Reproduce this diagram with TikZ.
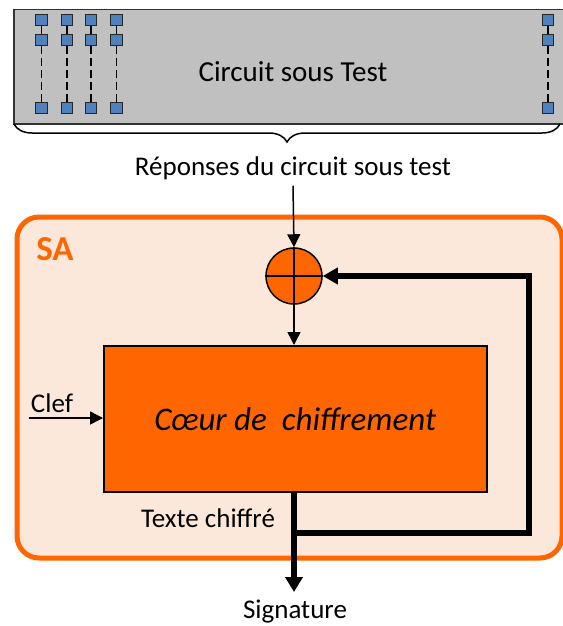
\documentclass[tikz,border=0pt]{standalone}
\usepackage{fontspec}
\setmainfont{Carlito}
\usetikzlibrary{arrows.meta, positioning, calc, decorations.pathreplacing}
\definecolor{saorange}{RGB}{255,102,0}
\definecolor{sapeach}{RGB}{252,232,218}
\definecolor{cutgray}{RGB}{192,192,192}
\definecolor{padblue}{RGB}{79,129,189}

\begin{document}
\begin{tikzpicture}[x=1pt, y=-1pt,
  pad/.style={draw=black!85, fill=padblue, minimum size=11.5pt, inner sep=0pt, line width=1.4pt},
  lbl/.style={font=\fontsize{27}{32}\selectfont, inner sep=0pt},
  arr/.style={-{Triangle[length=13pt, width=13pt]}, line width=1.5pt},
  fbk/.style={line width=6pt}
]
  \useasboundingbox (0,0) rectangle (562,626);
  % circuit under test
  \node[draw=black!80, fill=cutgray, line width=1.5pt, minimum width=560pt, minimum height=114pt, inner sep=0pt, anchor=north west] (cut) at (13,9) {};
  \node[lbl, font=\fontsize{29}{34}\selectfont] (cuttxt) at (293,72) {Circuit sous Test};
  \foreach \i/\x in {1/41.5, 2/67, 3/91, 4/116.5, 5/548} {
    \node[pad] (pa\i) at (\x,20) {};
    \node[pad] (pb\i) at (\x,40) {};
    \node[pad] (pc\i) at (\x,108) {};
    \draw[line width=1.5pt] (pa\i) -- (pb\i);
    \draw[line width=1.5pt, dash pattern=on 8pt off 4pt] (pb\i) -- (pc\i);
  }
  \draw[line width=1.5pt, decorate, decoration={brace, amplitude=18pt, mirror}] (14,124) -- (560,124);
  \node[lbl] (resp) at (293,168) {Réponses du circuit sous test};

  % SA block
  \node[draw=saorange, fill=sapeach, line width=5pt, rounded corners=22pt, minimum width=545pt, minimum height=341pt, anchor=north west] (sa) at (14.5,214.5) {};
  \node[font=\bfseries\fontsize{35}{40}\selectfont, text=saorange, inner sep=0pt] (satxt) at (55,249) {SA};

  \node[circle, draw=black, fill=saorange, line width=1.5pt, minimum size=56pt, inner sep=0pt] (xor) at (294,276) {};
  \draw[line width=1.5pt] (xor.north) -- (xor.south);
  \draw[line width=1.5pt] (xor.west) -- (xor.east);

  \node[draw=black, fill=saorange, line width=1.5pt, minimum width=383pt, minimum height=146pt, inner sep=0pt, anchor=north west, font=\itshape\fontsize{33}{38}\selectfont] (core) at (103,345) {Cœur de\ \ chiffrement};

  \node[lbl] (clef) at (52,403) {Clef};
  \node[lbl] (chiffre) at (208,518) {Texte chiffré};
  \node[lbl] (sig) at (295,612) {Signature};

  % connectors
  \draw[arr] ([yshift=-6pt]resp.south) -- (xor.north);
  \draw[arr] (xor.south) -- (xor.south |- core.north);
  \coordinate (keyin) at (29,418);
  \draw[arr] (keyin) -- (keyin -| core.west);
  \coordinate (tap) at (294,533);
  \draw[fbk, -{Triangle[length=15pt, width=17pt]}] (core.south -| tap) -- (294,592);
  \draw[fbk, -{Triangle[length=15pt, width=16pt]}] (tap) -| ([xshift=206.5pt]xor.east) -- (xor.east);
\end{tikzpicture}
\end{document}
